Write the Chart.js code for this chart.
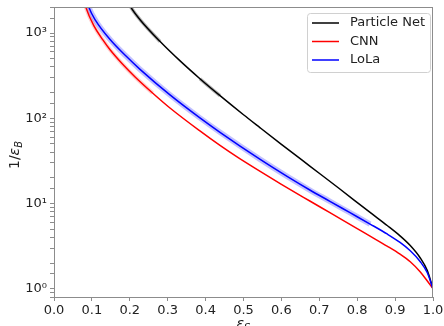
<!DOCTYPE html>
<html>
<head>
<meta charset="utf-8">
<script src="https://cdn.jsdelivr.net/npm/chart.js@4/dist/chart.umd.min.js"></script>
<style>
  html, body { margin:0; padding:0; background:#fff; }
  #c { display:block; }
</style>
</head>
<body>
<canvas id="c" width="444" height="326"></canvas>
<script>
// ROC-style curves: signal efficiency vs 1/background efficiency (log y)
const FONT = "'DejaVu Sans', sans-serif", AXIS = "#8c8c8c", INK = "#222";

const effPN  = [0.195, 0.203, 0.227, 0.28, 0.332, 0.385, 0.438, 0.5, 0.544, 0.6, 0.675, 0.75, 0.834, 0.88, 0.913, 0.94, 0.966, 0.985, 1.0];
const rejPN  = [2350, 2000, 1435, 795, 474, 291, 184, 110, 77.3, 49.5, 27.5, 15.3, 7.85, 5.48, 4.17, 3.21, 2.31, 1.63, 1.0];

const effCNN = [0.078, 0.084, 0.105, 0.129, 0.148, 0.18, 0.214, 0.26, 0.306, 0.385, 0.438, 0.486, 0.544, 0.6, 0.675, 0.728, 0.8, 0.834, 0.88, 0.913, 0.94, 0.966, 0.985, 1.0];
const rejCNN = [2500, 2000, 1220, 830, 635, 435, 305, 198, 132, 71, 48, 34.5, 23.8, 16.8, 10.7, 7.8, 5.07, 4.14, 3.14, 2.54, 2.07, 1.58, 1.23, 1.0];

const effLoLa = [0.086, 0.092, 0.11, 0.148, 0.19, 0.227, 0.306, 0.385, 0.438, 0.544, 0.615, 0.675, 0.728, 0.781, 0.834, 0.88, 0.913, 0.94, 0.966, 0.985, 1.0];
const rejLoLa = [2500, 2000, 1400, 840, 537, 375, 188, 101, 68.4, 32.9, 20.8, 14.4, 10.6, 7.8, 5.74, 4.36, 3.49, 2.79, 2.09, 1.54, 1.0];

const xTicks = [0, 0.1, 0.2, 0.3, 0.4, 0.5, 0.6, 0.7, 0.8, 0.9, 1.0];
const SUP = {"0":"\u2070","1":"\u00b9","2":"\u00b2","3":"\u00b3"};

const pts = (xs, ys) => xs.map((x, i) => ({x, y: ys[i]}));

function curve(label, xs, ys, color, order){
  return {label, data: pts(xs, ys), borderColor: color, borderWidth: 1.5, pointRadius: 0,
    cubicInterpolationMode: "monotone", order};
}
// faint uncertainty band drawn as a wide translucent stroke under the curve
function band(xs, ys, color, width, shown){
  return {data: pts(xs, ys), borderColor: color, borderWidth: width, pointRadius: 0,
    cubicInterpolationMode: "monotone", order: 10,
    segment: {borderColor: c => shown(c.p0.parsed.x) ? color : "rgba(0,0,0,0)"}};
}

const frameAndText = {
  id: "frameAndText",
  afterDraw(chart){
    const {ctx, chartArea: a} = chart;
    ctx.save();
    ctx.strokeStyle = AXIS; ctx.lineWidth = 1;
    ctx.strokeRect(a.left + 0.5, a.top + 0.5, a.right - a.left - 1, a.bottom - a.top);

    // legend box
    const lx = 307.5, ly = 13.5, lw = 123, lh = 59;
    ctx.fillStyle = "rgba(255,255,255,0.85)"; ctx.strokeStyle = "#d0d0d0";
    ctx.beginPath(); ctx.roundRect(lx, ly, lw, lh, 3); ctx.fill(); ctx.stroke();
    ctx.font = "13px " + FONT; ctx.textBaseline = "middle"; ctx.textAlign = "left";
    chart.data.datasets.filter(d => d.label).forEach((d, i) => {
      const y = 23 + i * 18.5;
      ctx.strokeStyle = d.borderColor; ctx.lineWidth = 1.5;
      ctx.beginPath(); ctx.moveTo(312, y); ctx.lineTo(339, y); ctx.stroke();
      ctx.fillStyle = INK; ctx.fillText(d.label, 350, y);
    });

    // axis titles with subscripts
    ctx.fillStyle = INK; ctx.textBaseline = "alphabetic";
    const xc = (a.left + a.right) / 2;
    ctx.font = "italic 14px " + FONT;
    const we = ctx.measureText("\u03b5").width;
    ctx.font = "italic 10px " + FONT;
    const ws = ctx.measureText("S").width;
    let x0 = xc - (we + ws) / 2;
    ctx.font = "italic 14px " + FONT; ctx.fillText("\u03b5", x0, 328);
    ctx.font = "italic 10px " + FONT; ctx.fillText("S", x0 + we, 331);

    ctx.translate(19, 155); ctx.rotate(-Math.PI / 2);
    ctx.font = "14px " + FONT;
    const w1 = ctx.measureText("1/").width;
    ctx.font = "italic 14px " + FONT;
    const w2 = ctx.measureText("\u03b5").width;
    ctx.font = "italic 10px " + FONT;
    const w3 = ctx.measureText("B").width;
    x0 = -(w1 + w2 + w3) / 2;
    ctx.font = "14px " + FONT; ctx.fillText("1/", x0, 0);
    ctx.font = "italic 14px " + FONT; ctx.fillText("\u03b5", x0 + w1, 0);
    ctx.font = "italic 10px " + FONT; ctx.fillText("B", x0 + w1 + w2, 3);
    ctx.restore();
  }
};

new Chart(document.getElementById("c"), {
  type: "line",
  data: {datasets: [
    band(effLoLa, rejLoLa, "rgba(80,80,255,0.35)", 5.5, x => x < 0.8),
    band(effCNN, rejCNN, "rgba(255,70,70,0.25)", 4, x => x < 0.25),
    band(effPN, rejPN, "rgba(0,0,0,0.3)", 3.5, x => x < 0.25 || (x > 0.36 && x < 0.43)),
    curve("Particle Net", effPN, rejPN, "#000000", 3),
    curve("CNN", effCNN, rejCNN, "#ff0000", 2),
    curve("LoLa", effLoLa, rejLoLa, "#0000ff", 1)
  ]},
  options: {
    responsive: false, animation: false, devicePixelRatio: 1,
    layout: {padding: {top: 7, right: 11, left: 0, bottom: 0}},
    plugins: {legend: {display: false}, tooltip: {enabled: false}},
    scales: {
      x: {
        type: "linear", min: 0, max: 1,
        afterBuildTicks: s => { s.ticks = xTicks.map(v => ({value: v})); },
        afterFit: s => { s.height = 29; s.paddingLeft = 0; s.paddingRight = 0; },
        grid: {drawOnChartArea: false, tickLength: 4, color: AXIS},
        border: {color: AXIS},
        ticks: {font: {family: FONT, size: 13}, color: INK, padding: 2, maxRotation: 0,
          callback: v => v.toFixed(1)}
      },
      y: {
        type: "logarithmic", min: 0.8, max: 2020,
        afterFit: s => { s.width = 54; s.paddingTop = 0; s.paddingBottom = 0; },
        grid: {drawOnChartArea: false, tickLength: 4, color: AXIS},
        border: {color: AXIS},
        ticks: {font: {family: FONT, size: 13}, color: INK, padding: 3, autoSkip: false,
          callback: v => {
            const e = Math.log10(v);
            return Math.abs(e - Math.round(e)) < 1e-9 ? "10" + SUP[String(Math.round(e))] : "";
          }}
      }
    }
  },
  plugins: [frameAndText]
});
</script>
</body>
</html>
